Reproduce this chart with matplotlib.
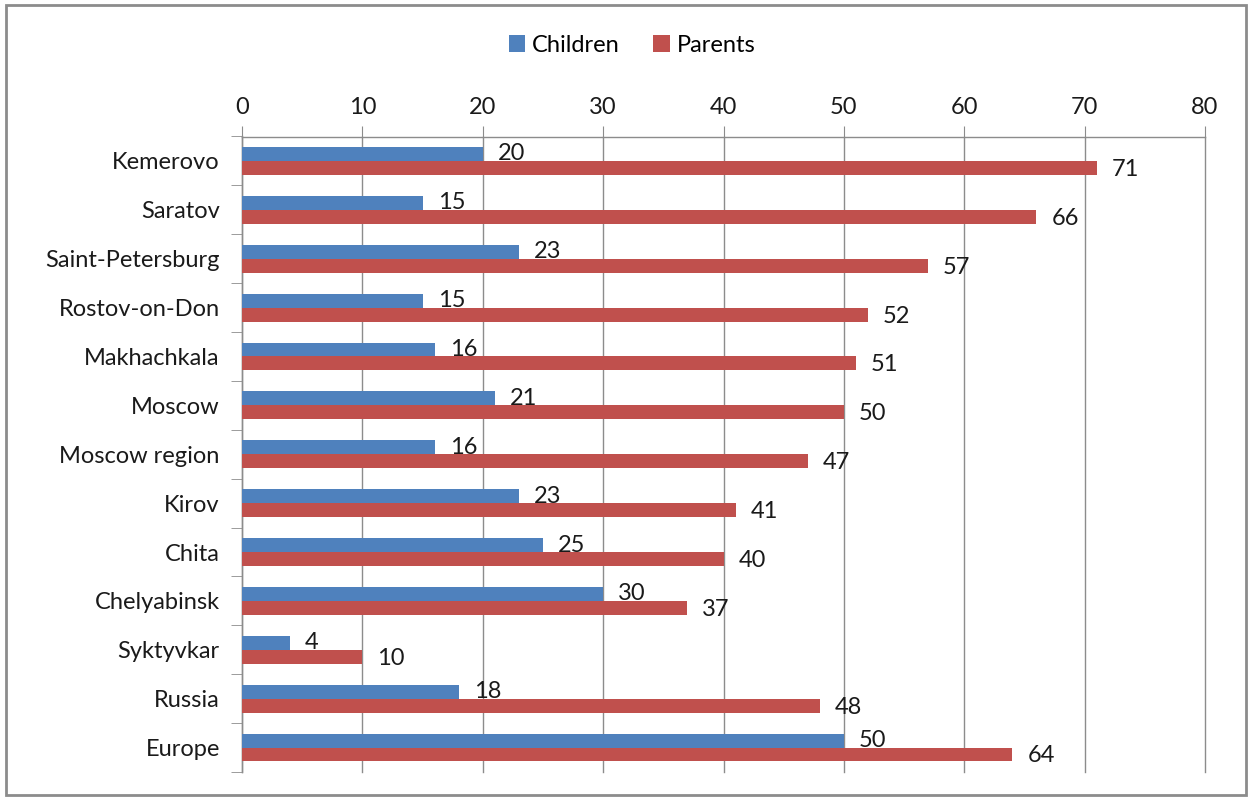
import numpy as np
import matplotlib.pyplot as plt
from matplotlib.patches import Rectangle

plt.rcParams['font.family'] = ['Lato', 'DejaVu Sans']

# data, top to bottom as in the chart
regions = ['Kemerovo', 'Saratov', 'Saint-Petersburg', 'Rostov-on-Don', 'Makhachkala',
           'Moscow', 'Moscow region', 'Kirov', 'Chita', 'Chelyabinsk', 'Syktyvkar',
           'Russia', 'Europe']
children = [20, 15, 23, 15, 16, 21, 16, 23, 25, 30, 4, 18, 50]
parents = [71, 66, 57, 52, 51, 50, 47, 41, 40, 37, 10, 48, 64]

blue = '#4F81BD'
red = '#C0504D'
grid_col = '#8C8C8C'
fs = 17

fig = plt.figure(figsize=(12.49, 7.99), dpi=100)
ax = fig.add_axes([242/1249, 1 - 772/799, (1205-242)/1249, (772-136.5)/799])

y = np.arange(len(regions))
h = 0.285
ax.barh(y - h/2, children, height=h, color=blue, label='Children', zorder=3)
ax.barh(y + h/2, parents, height=h, color=red, label='Parents', zorder=3)

for yi, c, p in zip(y, children, parents):
    ax.annotate(str(c), (c, yi - h/2), xytext=(15, 0), textcoords='offset pixels',
                va='center', ha='left', fontsize=fs, color='#1a1a1a', zorder=4)
    ax.annotate(str(p), (p, yi + h/2 + 0.03), xytext=(15, 0), textcoords='offset pixels',
                va='center', ha='left', fontsize=fs, color='#1a1a1a', zorder=4)

ax.set_xlim(0, 80)
ax.set_ylim(len(regions) - 0.5, -0.5)
ax.xaxis.tick_top()
ax.set_xticks(np.arange(0, 81, 10))
ax.tick_params(axis='x', which='major', direction='out', length=8, color=grid_col,
               labelsize=fs, pad=5, labelcolor='#1a1a1a')
ax.grid(axis='x', color=grid_col, linewidth=1, zorder=0)
for gl in ax.get_xgridlines():
    gl.set_clip_on(False)

ax.set_yticks(y)
ax.set_yticklabels(regions)
ax.set_yticks(np.arange(-0.5, len(regions), 1), minor=True)
ax.tick_params(axis='y', which='major', length=0, labelsize=fs, pad=16, labelcolor='#1a1a1a')
ax.tick_params(axis='y', which='minor', direction='out', length=8, color=grid_col)

for s in ['right', 'bottom']:
    ax.spines[s].set_visible(False)
for s in ['top', 'left']:
    ax.spines[s].set_color(grid_col)
    ax.spines[s].set_linewidth(1)

ax.legend(loc='center', bbox_to_anchor=(632/1249, 1 - 45/799), bbox_transform=fig.transFigure,
          ncol=2, frameon=False, fontsize=fs, handlelength=0.7, handleheight=0.7,
          handletextpad=0.3, columnspacing=1.4)

fig.patches.append(Rectangle((6/1249, 4/799), 1240/1249, 790/799, transform=fig.transFigure,
                             fill=False, edgecolor='#8C8C8C', linewidth=2))

fig.savefig('out.png', dpi=100)
